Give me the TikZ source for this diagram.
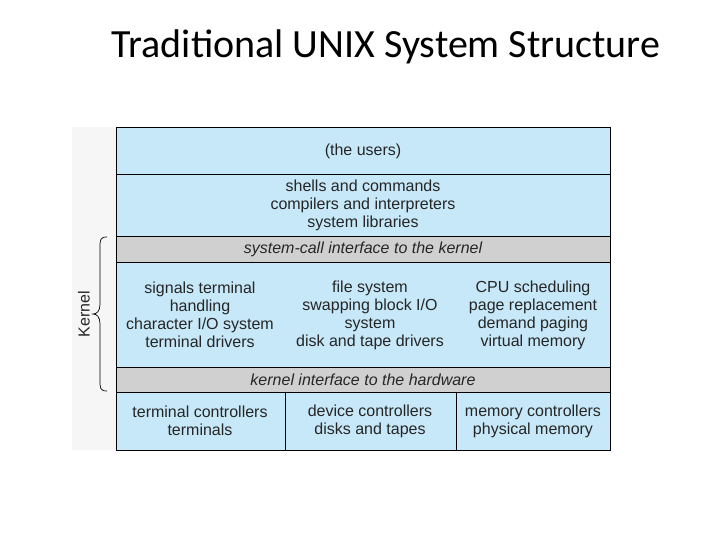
\documentclass[tikz,border=0pt]{standalone}
\usepackage{fontspec}
\setmainfont{Liberation Sans}
\newfontfamily\titlefont{Carlito}
\definecolor{layerblue}{RGB}{198,232,248}
\definecolor{ifgrey}{RGB}{208,208,208}
\definecolor{stripgrey}{RGB}{246,246,246}
\tikzstyle{layer}=[draw,fill=layerblue,line width=0.8pt]
\tikzstyle{iface}=[draw,fill=ifgrey,line width=0.8pt]
\tikzstyle{txt}=[align=center,font=\fontsize{16}{18}\selectfont,text=black!85]
\tikzstyle{itxt}=[txt,font=\fontsize{16}{18}\selectfont\itshape]
\begin{document}
\begin{tikzpicture}[x=1pt,y=-1pt]
  \useasboundingbox (0,0) rectangle (720,540);
  % title
  \node[font=\titlefont\fontsize{40}{44}\selectfont] (title) at (386,47) {Traditional UNIX System Structure};
  % faint side strip
  \fill[stripgrey] (72,127) rectangle (116,450);
  % layers
  \draw[layer] (116,127) rectangle (610,174);
  \draw[layer] (116,174) rectangle (610,236);
  \draw[iface] (116,236) rectangle (610,262);
  \draw[layer] (116,262) rectangle (610,367);
  \draw[iface] (116,367) rectangle (610,392);
  \draw[layer] (116,392) rectangle (285,450);
  \draw[layer] (285,392) rectangle (456,450);
  \draw[layer] (456,392) rectangle (610,450);
  % texts
  \node[txt] (users) at (363,151) {(the users)};
  \node[txt] (shells) at (363,205) {shells and commands\\compilers and interpreters\\system libraries};
  \node[itxt] (syscall) at (363,249) {system-call interface to the kernel};
  \node[txt] (ksig) at (200,315) {signals terminal\\handling\\character I/O system\\terminal drivers};
  \node[txt] (kfs) at (370,315) {file system\\swapping block I/O\\system\\disk and tape drivers};
  \node[txt] (kcpu) at (533,315) {CPU scheduling\\page replacement\\demand paging\\virtual memory};
  \node[itxt] (hwif) at (363,380) {kernel interface to the hardware};
  \node[txt] (term) at (200,421) {terminal controllers\\terminals};
  \node[txt] (dev) at (370,421) {device controllers\\disks and tapes};
  \node[txt] (mem) at (533,421) {memory controllers\\physical memory};
  % kernel brace
  \coordinate (btop) at (107,237);
  \coordinate (bbot) at (107,391);
  \draw[line width=0.7pt] (btop) .. controls (100,237) and (100,240) .. (100,248)
    -- (100,304) .. controls (100,311) and (97,314) .. (93,314)
    .. controls (97,314) and (100,317) .. (100,324)
    -- (100,380) .. controls (100,388) and (100,391) .. (bbot);
  \node[txt,rotate=90] (kernel) at (84,314) {Kernel};
\end{tikzpicture}
\end{document}
